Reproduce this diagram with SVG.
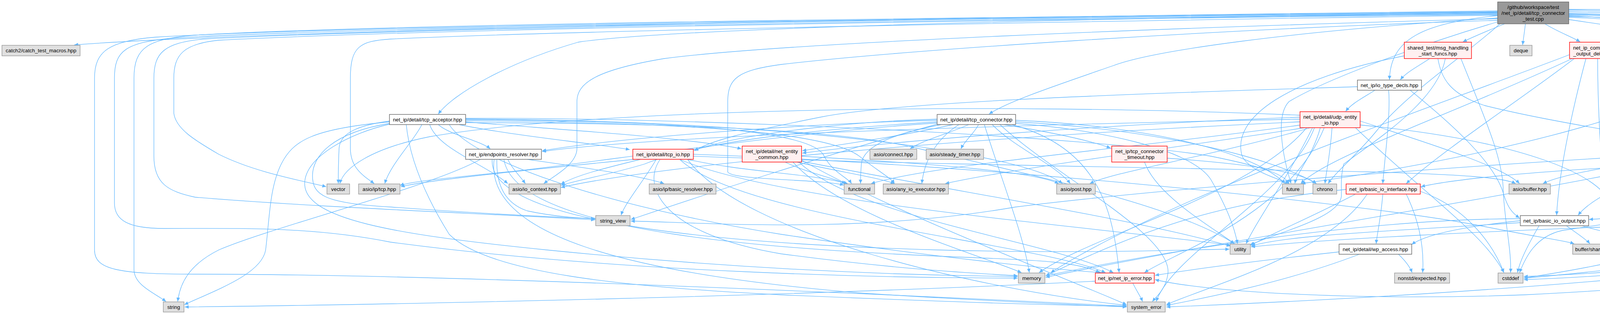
<svg xmlns="http://www.w3.org/2000/svg" width="5740" height="804" viewBox="0 0 5740 804">
<style>
.e path{fill:none;stroke:#63b8ff;stroke-width:1.3;marker-end:url(#ah)}
.n rect{stroke-width:1.4}
.x rect{fill:#e0e0e0;stroke:#999999}
.w rect{fill:#ffffff;stroke:#666666}
.r rect{fill:#fff0f0;stroke:#ff0000}
.t rect{fill:#999999;stroke:#666666}
text{font-family:"Liberation Sans",Arial,Helvetica,sans-serif;font-size:13.33px;text-anchor:middle;fill:#000000}
</style>
<defs>
<marker id="ah" markerUnits="userSpaceOnUse" markerWidth="11" markerHeight="10" refX="10" refY="5" orient="auto"><path d="M0,0.5 L10,5 L0,9.5 z" fill="#63b8ff"/></marker>
</defs>
<rect x="0" y="0" width="5740" height="804" fill="#ffffff"/>
<g id="connectors" class="e">
<path d="M3834,28 C2600,42 700,75 190,115"/>
<path d="M3834,32 C2600,50 1700,75 1480,108 C1300,160 1160,240 1122,292"/>
<path d="M3834,46 C3300,80 2950,130 2850,168 C2700,220 2580,260 2532,292"/>
<path d="M3834,40 C3640,60 3560,100 3557,204"/>
<path d="M3852,61 C3810,78 3770,95 3745,107"/>
<path d="M3905,61 C3903,80 3900,98 3898,115"/>
<path d="M3955,61 C3985,80 4025,95 4045,107"/>
<path d="M4016,50 C4220,80 4360,100 4415,115"/>
<path d="M4016,40 C4400,60 4660,100 4755,204"/>
<path d="M4016,44 C4600,70 4900,150 4880,240 C4860,310 4600,350 4495,381"/>
<path d="M4016,36 C4800,55 5080,140 5065,230 C5055,300 4990,350 4865,379"/>
<path d="M4016,30 C4700,40 5150,70 5190,170 C5202,210 5202,350 5202,470"/>
<path d="M4016,34 C4750,48 5260,95 5288,190 C5300,300 5305,400 5322,470"/>
<path d="M4016,26 C5000,38 5480,80 5565,190 C5585,300 5595,400 5607,462"/>
<path d="M4016,38 C4900,55 5480,110 5496,220 C5502,350 5480,420 5400,470 C5200,540 4700,560 4200,578 C3800,592 3400,612 3203,632"/>
<path d="M4016,42 C4850,60 5430,130 5445,230 C5452,330 5420,420 5330,480 C5100,560 4600,640 4300,672 C4100,692 4000,705 3901,712"/>
<path d="M4016,24 C5300,28 5730,100 5735,260 C5740,480 5650,600 5300,640 C4900,680 4400,730 3900,755 C3500,770 3100,750 2957,716"/>
<path d="M3834,30 C2500,45 1000,60 500,90 C380,100 343,120 343,200 L343,690 C343,730 395,750 425,772"/>
<path d="M3834,31 C2500,46 900,65 400,95 C280,105 242,130 242,200 L242,640 C242,690 300,702 500,702 C1200,702 2400,760 2884,784"/>
<path d="M3834,33 C2500,47 950,68 450,97 C320,108 293,130 293,200 L293,520 C293,565 330,585 420,585 C620,585 800,580 1000,620 C1600,700 2300,712 2605,712"/>
<path d="M3834,35 C2600,48 1100,70 520,100 C420,110 394,135 394,200 L394,400 C394,470 430,490 500,505 C800,530 1200,545 1523,563"/>
<path d="M3834,37 C2600,50 1150,72 560,103 C470,112 445,140 445,200 L445,290 C450,330 500,360 560,395 C650,440 760,460 835,478"/>
<path d="M3834,39 C2700,55 1400,80 1000,100 C920,105 897,120 897,200 L897,380 C897,430 930,450 958,470"/>
<path d="M3834,48 C3000,70 2000,110 1700,150 C1520,180 1477,215 1477,260 L1477,380 C1477,420 1420,450 1392,470"/>
<path d="M3834,52 C3100,75 2300,130 2000,165 C1890,180 1863,200 1863,260 L1863,440 C1870,462 2100,458 2160,474"/>
<path d="M3834,56 C3650,110 3400,200 3300,260 C3260,300 3290,420 3305,470"/>
<path d="M3840,61 C3740,150 3600,240 3520,340 C3470,400 3420,440 3400,470"/>
<path d="M1122,319 C1150,345 1230,360 1255,381"/>
<path d="M1175,319 C1300,345 1500,365 1612,383"/>
<path d="M1192,312 C1400,330 1750,350 1898,381"/>
<path d="M1080,319 C1060,360 1000,420 985,470"/>
<path d="M1100,319 C1120,380 1240,420 1300,470"/>
<path d="M997,310 C920,320 870,340 868,380 C866,420 866,440 866,470"/>
<path d="M997,312 C800,330 750,360 720,420 C690,480 690,560 680,640 C670,700 560,740 472,780"/>
<path d="M997,316 C850,340 800,400 800,450 C800,500 830,520 1000,530 C1200,545 1400,555 1523,560"/>
<path d="M997,318 C900,340 780,400 780,470 C780,560 1000,600 1400,640 C1900,690 2300,705 2605,708"/>
<path d="M1040,319 C1050,420 1100,520 1150,600 C1250,700 1600,735 2000,755 C2400,772 2700,782 2884,784"/>
<path d="M1192,314 C1700,315 2150,330 2350,380 C2600,440 3000,520 3160,624"/>
<path d="M1192,306 C1700,310 2080,330 2110,400 C2130,440 2170,455 2180,470"/>
<path d="M1192,303 C1800,300 2800,350 3100,400 C3250,430 3290,450 3300,470"/>
<path d="M1150,319 C1200,400 1500,520 2000,600 C2400,660 2700,690 2820,698"/>
<path d="M1192,309 C1800,315 2120,340 2200,400 C2250,440 2280,455 2290,470"/>
<path d="M1192,305 C1900,305 2600,380 2720,470"/>
<path d="M2440,319 C2300,350 2150,370 2054,386"/>
<path d="M2480,319 C2420,345 2360,360 2330,381"/>
<path d="M2505,319 C2495,340 2470,360 2460,381"/>
<path d="M2570,319 C2700,340 2790,360 2843,379"/>
<path d="M2399,305 C2200,310 1900,340 1777,385"/>
<path d="M2399,308 C2100,315 1600,350 1388,386"/>
<path d="M2399,312 C2100,330 1800,360 1650,420 C1550,450 1480,460 1436,475"/>
<path d="M2399,315 C2000,340 1500,420 1300,440 C1150,455 1050,465 1024,475"/>
<path d="M2410,319 C2300,340 2210,370 2205,420 C2203,445 2203,460 2203,470"/>
<path d="M2455,319 C2390,360 2365,420 2360,470"/>
<path d="M2540,319 C2600,380 2700,420 2740,470"/>
<path d="M2600,308 C2900,320 3200,380 3290,470"/>
<path d="M2600,312 C2950,330 3250,400 3370,470"/>
<path d="M2520,319 C2560,450 2620,600 2635,698"/>
<path d="M2560,319 C2700,450 3000,600 2990,700 C2985,740 2960,760 2950,772"/>
<path d="M2600,316 C2800,330 3050,380 3100,460 C3140,530 3160,580 3168,624"/>
<path d="M2399,318 C2100,400 1800,500 1615,562"/>
<path d="M2590,319 C2820,380 2850,550 2865,698"/>
<path d="M1350,408 C1500,430 1640,450 1700,470"/>
<path d="M1300,408 C1310,430 1330,450 1345,470"/>
<path d="M1272,408 C1270,470 1290,520 1350,540 C1420,555 1480,558 1523,560"/>
<path d="M1230,408 C1100,480 700,580 560,640 C480,680 460,730 455,772"/>
<path d="M1260,408 C1250,550 1700,620 2400,640 C2800,650 3000,640 3147,638"/>
<path d="M1265,408 C1240,600 1600,700 2200,750 C2500,770 2750,780 2884,786"/>
<path d="M1290,408 C1320,600 2000,640 2500,660 C2650,666 2760,670 2815,698"/>
<path d="M1625,408 C1400,430 1100,460 1026,478"/>
<path d="M1640,408 C1550,430 1470,450 1436,472"/>
<path d="M1680,408 C1650,460 1600,520 1590,551"/>
<path d="M1775,400 C2300,420 3000,430 3500,440 C3750,447 3850,455 3880,470"/>
<path d="M1690,408 C1640,480 1700,600 2000,650 C2300,690 2500,700 2605,706"/>
<path d="M1760,408 C1900,600 2500,740 2884,782"/>
<path d="M1740,408 C2000,520 2800,580 3150,628"/>
<path d="M1775,395 C2500,420 3500,520 3800,580 C3950,610 4000,615 4030,624"/>
<path d="M1740,408 C1900,560 2650,620 2830,698"/>
<path d="M1760,408 C1900,440 2080,445 2170,470"/>
<path d="M2010,415 C2060,440 2130,455 2165,470"/>
<path d="M2052,400 C2400,420 2650,440 2710,470"/>
<path d="M2040,415 C2150,440 2250,455 2290,470"/>
<path d="M2030,415 C2150,550 2500,650 2615,698"/>
<path d="M2052,410 C2300,550 2700,700 2884,780"/>
<path d="M2045,415 C2200,560 2700,620 2850,698"/>
<path d="M2052,413 C2500,500 2900,560 3150,630"/>
<path d="M2988,405 C3200,420 3330,440 3370,470"/>
<path d="M2930,415 C2960,500 3100,580 3160,624"/>
<path d="M3660,150 C3630,170 3600,185 3585,204"/>
<path d="M3681,150 C3690,200 3710,240 3800,270 C4000,320 4250,350 4340,381"/>
<path d="M3595,143 C3300,200 3150,300 3180,400 C3200,440 3280,460 3300,470"/>
<path d="M3700,150 C3680,260 3520,360 3440,420 C3432,450 3434,480 3434,500 C3434,560 3250,600 3200,628"/>
<path d="M3740,150 C3800,300 3845,400 3848,480 C3850,560 3870,640 3867,698"/>
<path d="M3520,231 C3490,250 3460,265 3445,285"/>
<path d="M3555,231 C3560,300 3545,400 3540,470"/>
<path d="M3610,231 C3720,320 3830,420 3850,500 C3860,530 3870,545 3890,558"/>
<path d="M3475,222 C2900,240 2300,260 2100,300 C1900,340 1820,360 1778,386"/>
<path d="M3328,300 C2800,320 2300,360 2054,392"/>
<path d="M3328,305 C2600,320 1700,345 1388,388"/>
<path d="M3328,312 C2500,350 1700,420 1436,480"/>
<path d="M3330,320 C2900,380 2400,420 2230,470"/>
<path d="M3340,327 C3000,380 2600,430 2420,470"/>
<path d="M3355,327 C3100,400 2850,440 2790,470"/>
<path d="M3380,327 C3360,400 3320,440 3315,470"/>
<path d="M3410,327 C3405,400 3395,440 3392,470"/>
<path d="M3345,327 C3200,500 2800,600 2660,698"/>
<path d="M3365,327 C3300,500 3000,650 2960,772"/>
<path d="M3360,327 C3300,450 3220,560 3190,624"/>
<path d="M3328,295 C2500,260 1500,280 1100,350 C950,380 880,430 870,470"/>
<path d="M3390,327 C3300,550 3000,650 2930,698"/>
<path d="M3482,310 C3700,380 3850,430 3890,470"/>
<path d="M3470,327 C3650,500 3800,600 3850,698"/>
<path d="M3482,320 C3900,360 4100,450 4120,520 C4130,570 4115,600 4110,624"/>
<path d="M4130,150 C4220,170 4290,190 4320,204"/>
<path d="M4060,150 C4020,300 3990,450 3985,551"/>
<path d="M4030,150 C3900,250 3700,380 3600,470"/>
<path d="M4090,150 C4090,350 4110,500 4105,624"/>
<path d="M4018,140 C3600,300 3000,500 2690,698"/>
<path d="M4025,150 C3700,300 3400,400 3330,470"/>
<path d="M4475,143 C4440,165 4410,185 4395,204"/>
<path d="M4530,143 C4550,160 4565,175 4570,196"/>
<path d="M4570,143 C4650,165 4710,185 4735,204"/>
<path d="M4575,143 C4750,200 4900,250 5000,330 C5100,400 5170,440 5190,470"/>
<path d="M4450,143 C4300,300 3700,420 3332,470"/>
<path d="M4330,400 C4150,420 4000,445 3950,470"/>
<path d="M4345,408 C4200,450 4080,500 4040,551"/>
<path d="M4400,408 C4300,500 4180,580 4150,624"/>
<path d="M4450,408 C4460,430 4468,450 4472,470"/>
<path d="M4475,408 C4510,430 4540,450 4550,470"/>
<path d="M4515,408 C4600,430 4660,450 4680,470"/>
<path d="M4440,408 C4450,550 4420,660 4300,680 C4100,700 3990,705 3901,708"/>
<path d="M4329,392 C3800,420 3000,480 2600,530 C2200,600 1800,570 1615,566"/>
<path d="M4329,405 C3900,500 3100,620 2677,710"/>
<path d="M4760,415 C4740,430 4725,450 4720,470"/>
<path d="M4860,400 C5050,420 5250,450 5290,470"/>
<path d="M4702,395 C4300,420 3800,440 3638,478"/>
<path d="M4720,415 C4650,560 4500,680 4300,700 C3900,740 3400,770 2986,786"/>
<path d="M4702,410 C4500,520 4200,560 4000,590 C3930,605 3905,660 3890,698"/>
<path d="M4702,385 C4600,400 4520,440 4500,470"/>
<path d="M4705,415 C4650,440 4600,455 4585,470"/>
<path d="M3540,497 C3535,560 3525,600 3523,624"/>
<path d="M3600,497 C3640,580 3645,650 3642,698"/>
<path d="M3470,497 C3350,560 3250,600 3203,628"/>
<path d="M3500,497 C3400,650 3100,730 2986,780"/>
<path d="M3446,485 C3100,520 2900,600 2677,706"/>
<path d="M3636,490 C3750,530 3820,620 3850,698"/>
<path d="M3580,651 C3600,670 3610,685 3615,698"/>
<path d="M3480,651 C3300,720 3100,760 2986,782"/>
<path d="M3428,645 C3200,670 3050,690 2957,705"/>
<path d="M4010,578 C4040,600 4060,612 4070,624"/>
<path d="M4050,578 C4120,600 4200,612 4240,624"/>
<path d="M3940,578 C3910,630 3890,670 3885,698"/>
<path d="M3892,565 C3750,580 3650,600 3614,626"/>
<path d="M3892,560 C3500,560 3000,640 2677,706"/>
<path d="M3892,570 C3600,590 3300,600 3203,630"/>
<path d="M4215,651 C4100,680 3980,700 3901,712"/>
<path d="M5533,485 C5000,500 4400,540 4068,562"/>
<path d="M5533,492 C5000,540 4600,600 4366,632"/>
<path d="M5533,498 C5000,600 4400,700 3901,716"/>
<path d="M2900,725 C2910,745 2920,760 2925,772"/>
<path d="M2804,720 C2000,760 1000,780 473,786"/>
</g>
<g id="n-test" class="n t"><rect x="3834" y="5" width="182" height="56"/><text x="3925" y="23">/github/workspace/test</text><text x="3925" y="38">/net_ip/detail/tcp_connector</text><text x="3925" y="53">_test.cpp</text></g>
<g id="n-catch" class="n x"><rect x="5" y="116" width="200" height="27"/><text x="105" y="134">catch2/catch_test_macros.hpp</text></g>
<g id="n-tcp-acceptor" class="n w"><rect x="997" y="293" width="195" height="26"/><text x="1094.5" y="310.5">net_ip/detail/tcp_acceptor.hpp</text></g>
<g id="n-endpoints" class="n w"><rect x="1192" y="382" width="194" height="26"/><text x="1289" y="399.5">net_ip/endpoints_resolver.hpp</text></g>
<g id="n-tcp-io" class="n r"><rect x="1620" y="382" width="155" height="26"/><text x="1697.5" y="399.5">net_ip/detail/tcp_io.hpp</text></g>
<g id="n-net-entity" class="n r"><rect x="1900" y="374" width="152" height="41"/><text x="1976" y="392">net_ip/detail/net_entity</text><text x="1976" y="407">_common.hpp</text></g>
<g id="n-tcp-connector" class="n w"><rect x="2399" y="293" width="201" height="26"/><text x="2499.5" y="310.5">net_ip/detail/tcp_connector.hpp</text></g>
<g id="n-connect" class="n x"><rect x="2227" y="382" width="120" height="26"/><text x="2287" y="399.5">asio/connect.hpp</text></g>
<g id="n-steady" class="n x"><rect x="2371" y="382" width="147" height="26"/><text x="2444.5" y="399.5">asio/steady_timer.hpp</text></g>
<g id="n-timeout" class="n r"><rect x="2846" y="374" width="142" height="41"/><text x="2917" y="392">net_ip/tcp_connector</text><text x="2917" y="407">_timeout.hpp</text></g>
<g id="n-start-funcs" class="n r"><rect x="3595" y="108" width="172" height="42"/><text x="3681" y="127">shared_test/msg_handling</text><text x="3681" y="142">_start_funcs.hpp</text></g>
<g id="n-io-type-decls" class="n w"><rect x="3475" y="205" width="164" height="26"/><text x="3557" y="222.5">net_ip/io_type_decls.hpp</text></g>
<g id="n-udp-entity" class="n r"><rect x="3328" y="286" width="154" height="41"/><text x="3405" y="304">net_ip/detail/udp_entity</text><text x="3405" y="319">_io.hpp</text></g>
<g id="n-deque" class="n x"><rect x="3865" y="116" width="57" height="27"/><text x="3893.5" y="134">deque</text></g>
<g id="n-io-output-delivery" class="n r"><rect x="4018" y="108" width="142" height="42"/><text x="4089" y="127">net_ip_component/io</text><text x="4089" y="142">_output_delivery.hpp</text></g>
<g id="n-worker" class="n w"><rect x="4397" y="116" width="195" height="27"/><text x="4494.5" y="134">net_ip_component/worker.hpp</text></g>
<g id="n-exception" class="n x"><rect x="4329" y="205" width="77" height="26"/><text x="4367.5" y="222.5">exception</text></g>
<g id="n-work-guard" class="n x"><rect x="4532" y="197" width="133" height="41"/><text x="4598.5" y="215">asio/executor_work</text><text x="4598.5" y="230">_guard.hpp</text></g>
<g id="n-iostream" class="n x"><rect x="4740" y="205" width="71" height="26"/><text x="4775.5" y="222.5">iostream</text></g>
<g id="n-msg-handling" class="n r"><rect x="4329" y="382" width="197" height="26"/><text x="4427.5" y="399.5">shared_test/msg_handling.hpp</text></g>
<g id="n-error-delivery" class="n w"><rect x="4702" y="374" width="158" height="41"/><text x="4781" y="392">net_ip_component/error</text><text x="4781" y="407">_delivery.hpp</text></g>
<g id="n-vector" class="n x"><rect x="837" y="471" width="58" height="26"/><text x="866" y="488.5">vector</text></g>
<g id="n-asio-tcp" class="n x"><rect x="918" y="471" width="106" height="26"/><text x="971" y="488.5">asio/ip/tcp.hpp</text></g>
<g id="n-io-context" class="n x"><rect x="1303" y="471" width="132" height="26"/><text x="1369" y="488.5">asio/io_context.hpp</text></g>
<g id="n-basic-resolver" class="n x"><rect x="1662" y="471" width="171" height="26"/><text x="1747.5" y="488.5">asio/ip/basic_resolver.hpp</text></g>
<g id="n-string-view" class="n x"><rect x="1525" y="552" width="88" height="26"/><text x="1569" y="569.5">string_view</text></g>
<g id="n-functional" class="n x"><rect x="2161" y="471" width="78" height="26"/><text x="2200" y="488.5">functional</text></g>
<g id="n-any-io-executor" class="n x"><rect x="2261" y="471" width="167" height="26"/><text x="2344.5" y="488.5">asio/any_io_executor.hpp</text></g>
<g id="n-post" class="n x"><rect x="2705" y="471" width="99" height="26"/><text x="2754.5" y="488.5">asio/post.hpp</text></g>
<g id="n-future" class="n x"><rect x="3283" y="471" width="54" height="26"/><text x="3310" y="488.5">future</text></g>
<g id="n-chrono" class="n x"><rect x="3361" y="471" width="61" height="26"/><text x="3391.5" y="488.5">chrono</text></g>
<g id="n-basic-io-interface" class="n r"><rect x="3446" y="471" width="190" height="26"/><text x="3541" y="488.5">net_ip/basic_io_interface.hpp</text></g>
<g id="n-asio-buffer" class="n x"><rect x="3863" y="471" width="106" height="26"/><text x="3916" y="488.5">asio/buffer.hpp</text></g>
<g id="n-ranges" class="n x"><rect x="4449" y="471" width="61" height="26"/><text x="4479.5" y="488.5">ranges</text></g>
<g id="n-cassert" class="n x"><rect x="4534" y="471" width="65" height="26"/><text x="4566.5" y="488.5">cassert</text></g>
<g id="n-ostream" class="n x"><rect x="4673" y="471" width="69" height="26"/><text x="4707.5" y="488.5">ostream</text></g>
<g id="n-thread" class="n x"><rect x="5174" y="471" width="58" height="26"/><text x="5203" y="488.5">thread</text></g>
<g id="n-wait-queue" class="n x"><rect x="5256" y="471" width="151" height="26"/><text x="5331.5" y="488.5">queue/wait_queue.hpp</text></g>
<g id="n-output-queue-stats" class="n r"><rect x="5533" y="463" width="168" height="41"/><text x="5617" y="481">net_ip_component/output</text><text x="5617" y="496">_queue_stats.hpp</text></g>
<g id="n-basic-io-output" class="n w"><rect x="3892" y="552" width="175" height="26"/><text x="3979.5" y="569.5">net_ip/basic_io_output.hpp</text></g>
<g id="n-shared-buffer" class="n x"><rect x="4026" y="625" width="158" height="26"/><text x="4105" y="642.5">buffer/shared_buffer.hpp</text></g>
<g id="n-queue-stats" class="n w"><rect x="4209" y="625" width="155" height="26"/><text x="4286.5" y="642.5">net_ip/queue_stats.hpp</text></g>
<g id="n-utility" class="n x"><rect x="3149" y="625" width="52" height="26"/><text x="3175" y="642.5">utility</text></g>
<g id="n-wp-access" class="n w"><rect x="3428" y="625" width="186" height="26"/><text x="3521" y="642.5">net_ip/detail/wp_access.hpp</text></g>
<g id="n-memory" class="n x"><rect x="2607" y="699" width="68" height="26"/><text x="2641" y="716.5">memory</text></g>
<g id="n-net-ip-error" class="n r"><rect x="2804" y="699" width="151" height="26"/><text x="2879.5" y="716.5">net_ip/net_ip_error.hpp</text></g>
<g id="n-expected" class="n x"><rect x="3570" y="699" width="141" height="26"/><text x="3640.5" y="716.5">nonstd/expected.hpp</text></g>
<g id="n-cstddef" class="n x"><rect x="3835" y="699" width="64" height="26"/><text x="3867" y="716.5">cstddef</text></g>
<g id="n-string" class="n x"><rect x="418" y="773" width="53" height="26"/><text x="444.5" y="790.5">string</text></g>
<g id="n-system-error" class="n x"><rect x="2886" y="773" width="97" height="26"/><text x="2934.5" y="790.5">system_error</text></g>
</svg>
